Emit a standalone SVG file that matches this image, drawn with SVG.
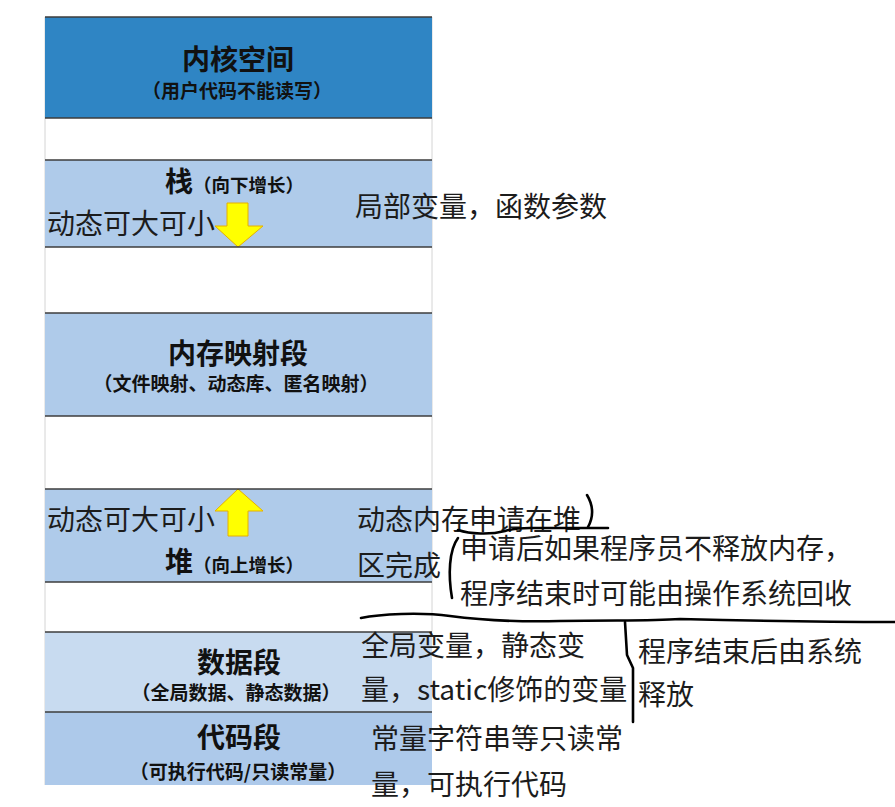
<svg xmlns="http://www.w3.org/2000/svg" width="895" height="807" viewBox="0 0 895 807">
<defs>
<style>
.band{stroke:none}
.sep{stroke:#3c3c3c;stroke-width:1.6}
.grid{stroke:#d4d4d4;stroke-width:1}
.title{font-family:"Noto Sans CJK SC","Noto Sans CJK TC",sans-serif;font-weight:bold;font-size:28px;fill:#111;text-anchor:middle;dominant-baseline:central}
.sub{font-family:"Noto Sans CJK SC","Noto Sans CJK TC",sans-serif;font-weight:bold;font-size:19px;fill:#111;text-anchor:middle;dominant-baseline:central}
.lbl{font-family:"Noto Sans CJK SC","Noto Sans CJK TC",sans-serif;font-weight:bold;fill:#111}
.note{font-family:"Noto Sans CJK SC","Noto Sans CJK TC",sans-serif;font-size:28px;fill:#1c1c1c;dominant-baseline:central}
.arrow{fill:#FFFF00;stroke:#E6B000;stroke-width:1}
.ink{fill:none;stroke:#000;stroke-width:2.6;stroke-linecap:round;stroke-linejoin:round}
</style>
</defs>
<rect width="895" height="807" fill="#fff"/>

<g id="grid">
<line class="grid" x1="45" y1="17" x2="45" y2="785"/>
<line class="grid" x1="432" y1="17" x2="432" y2="632"/>
</g>

<g id="kernel">
<rect class="band" x="45" y="17" width="387" height="101" fill="#2F85C4"/>
<text class="title" x="238" y="58">内核空间</text>
<text class="sub" x="237" y="89">（用户代码不能读写）</text>
</g>

<g id="stack">
<rect class="band" x="45" y="160" width="387" height="87" fill="#AFCBEA"/>
<text class="lbl" x="165" y="191.5"><tspan font-size="28px">栈</tspan><tspan font-size="18.5px">（向下增长）</tspan></text>
<text class="note" x="47" y="222">动态可大可小</text>
<polygon class="arrow" points="227,203 248,203 248,226 263,226 238,247 215,226 227,226"/>
</g>

<g id="mmap">
<rect class="band" x="45" y="313" width="387" height="103" fill="#AFCBEA"/>
<text class="title" x="238" y="352">内存映射段</text>
<text class="sub" x="236" y="382" font-size="20px">（文件映射、动态库、匿名映射）</text>
</g>

<g id="heap">
<rect class="band" x="45" y="489" width="387" height="93" fill="#AFCBEA"/>
<text class="lbl" x="165" y="571.5"><tspan font-size="28px">堆</tspan><tspan font-size="18.5px">（向上增长）</tspan></text>
<text class="note" x="47" y="518">动态可大可小</text>
<polygon class="arrow" points="238,489 263,511 248,511 248,536 228,536 228,511 215,511"/>
</g>

<g id="data">
<rect class="band" x="45" y="632" width="387" height="80" fill="#C8DBF0"/>
<text class="title" x="239" y="661">数据段</text>
<text class="sub" x="236" y="691">（全局数据、静态数据）</text>
</g>

<g id="code">
<rect class="band" x="45" y="712" width="387" height="73" fill="#ADC9EA"/>
<text class="title" x="239" y="736">代码段</text>
<text class="sub" x="238" y="770">（可执行代码/只读常量）</text>
</g>

<g id="separators">
<line class="sep" x1="45" y1="17" x2="432" y2="17"/>
<line class="sep" x1="45" y1="118" x2="432" y2="118"/>
<line class="sep" x1="45" y1="160" x2="432" y2="160"/>
<line class="sep" x1="45" y1="247" x2="432" y2="247"/>
<line class="sep" x1="45" y1="313" x2="432" y2="313"/>
<line class="sep" x1="45" y1="416" x2="432" y2="416"/>
<line class="sep" x1="45" y1="489" x2="432" y2="489"/>
<line class="sep" x1="45" y1="582" x2="432" y2="582"/>
<line class="sep" x1="45" y1="632" x2="432" y2="632"/>
<line class="sep" x1="45" y1="712" x2="432" y2="712"/>
</g>

<g id="notes">
<text class="note" x="355" y="205">局部变量，函数参数</text>
<text class="note" x="357" y="518">动态内存申请在堆</text>
<text class="note" x="357" y="564">区完成</text>
<text class="note" x="460" y="547">申请后如果程序员不释放内存，</text>
<text class="note" x="460" y="592">程序结束时可能由操作系统回收</text>
<text class="note" x="361" y="644">全局变量，静态变</text>
<text class="note" x="361" y="688">量，static修饰的变量</text>
<text class="note" x="638" y="650">程序结束后由系统</text>
<text class="note" x="638" y="693">释放</text>
<text class="note" x="371" y="737">常量字符串等只读常</text>
<text class="note" x="371" y="783">量，可执行代码</text>
</g>

<g id="connectors">
<path class="ink" d="M458,530 C470,534 490,535 505,531 C512,529 518,528 530,528 L608,528"/>
<path class="ink" d="M587,495 C593,505 594,516 588,527"/>
<path class="ink" d="M458,538 C449,550 448,575 452,598"/>
<path class="ink" d="M361,618 C380,614 420,612 450,616 C480,620 520,622 560,621 C620,620 650,621 680,619 C720,620 800,622 895,622"/>
<path class="ink" d="M625,622 L627,655 L633,668 L633,722"/>
</g>
</svg>
